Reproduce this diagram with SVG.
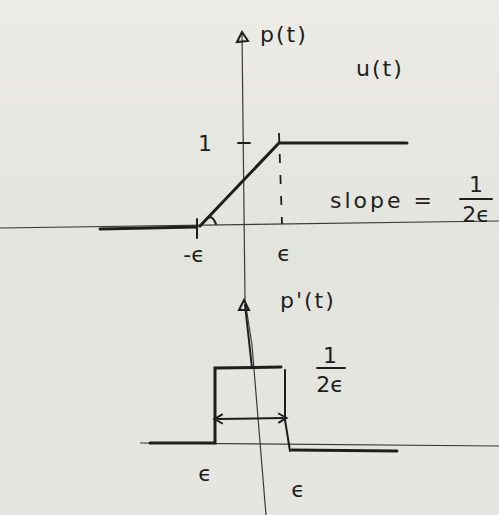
<svg xmlns="http://www.w3.org/2000/svg" width="499" height="515" viewBox="0 0 499 515">
<defs>
<linearGradient id="bg" x1="0" y1="0" x2="0" y2="1">
<stop offset="0" stop-color="#ecebe6"/>
<stop offset="0.5" stop-color="#e3e4dd"/>
<stop offset="1" stop-color="#e6e6e0"/>
</linearGradient>
<marker id="ah" viewBox="0 0 10 10" refX="5" refY="5" markerWidth="6" markerHeight="6" orient="auto-start-reverse">
<path d="M1,1 L8,5 L1,9" fill="none" stroke="#1e1e1e" stroke-width="1.6"/>
</marker>
</defs>
<style>
.thin{stroke:#3a3a3a;stroke-width:1.2;fill:none}
.thick{stroke:#1e1e1e;stroke-width:3;fill:none;stroke-linecap:round}
.med{stroke:#1e1e1e;stroke-width:2;fill:none;stroke-linecap:round}
.dash{stroke:#1e1e1e;stroke-width:1.8;fill:none;stroke-dasharray:9 12}
text{font-family:"DejaVu Sans","Liberation Sans",sans-serif;fill:#1e1e1e;font-size:22px}
</style>
<rect width="499" height="515" fill="url(#bg)"/>
<g id="axes">
<path class="thin" d="M242,33 L245,300 L252,345 L266,515"/>
<path class="thin" d="M0,228 L499,221"/>
<path class="thin" d="M140,443 L499,446"/>
<path class="med" d="M237,42 L242,32 L248,41 Z" fill="#1e1e1e"/>
<path class="med" d="M239,310 L244,300 L249,310 Z" fill="#1e1e1e"/>
<path class="med" d="M245,305 L252,368"/>
</g>
<g id="ramp">
<path class="thick" d="M100,229 L197,227"/>
<path class="med" d="M197,219 L197,238"/>
<path class="thick" d="M200,226 L279,143 L407,143"/>
<path class="med" d="M205,221 Q211,212 216,224"/>
<path class="med" d="M238,143 L250,143"/>
<path class="dash" d="M279,133 L282,224"/>
</g>
<g id="pulse">
<path class="thick" d="M150,443 L215,443 L215,368 L281,367"/>
<path class="med" d="M285,370 L285,420 L290,451"/>
<path class="thick" d="M292,450 L397,451"/>
<path class="med" d="M218,419 L283,418" marker-start="url(#ah)" marker-end="url(#ah)"/>
</g>
<g id="labels">
<text x="260" y="42" font-size="24" letter-spacing="2">p(t)</text>
<text x="356" y="76" font-size="26" letter-spacing="2">u(t)</text>
<text x="198" y="151">1</text>
<text x="330" y="208" font-size="24" letter-spacing="3">slope =</text>
<text x="476" y="192" font-size="17" text-anchor="middle">1</text>
<path class="med" d="M460,199 L492,199"/>
<text x="476" y="222" font-size="20" text-anchor="middle">2ϵ</text>
<text x="194" y="262" text-anchor="middle">-ϵ</text>
<text x="284" y="261" text-anchor="middle">ϵ</text>
<text x="280" y="308" font-size="24" letter-spacing="2">p'(t)</text>
<text x="330" y="363" font-size="17" text-anchor="middle">1</text>
<path class="med" d="M317,368 L345,368"/>
<text x="330" y="392" font-size="20" text-anchor="middle">2ϵ</text>
<text x="205" y="481" text-anchor="middle">ϵ</text>
<text x="298" y="497" text-anchor="middle">ϵ</text>
</g>
</svg>
